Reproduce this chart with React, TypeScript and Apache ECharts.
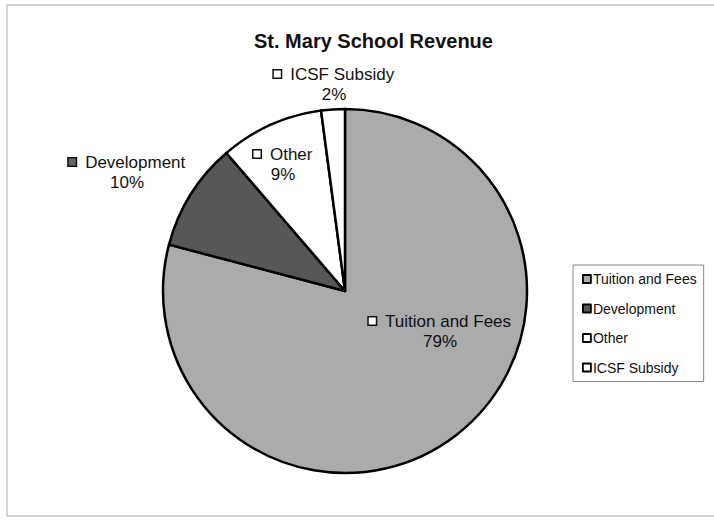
import React, { useEffect, useRef } from "react";
import * as echarts from "echarts";

const titleText = "St. Mary School Revenue";
const categories = ["Tuition and Fees", "Development", "Other", "ICSF Subsidy"];
const values = [79.1, 9.6, 9.2, 2.1];

const sliceColors = ["#ababab", "#575757", "#ffffff", "#ffffff"];
const boxStyles = ["boxW", "boxD", "boxW", "boxW"];
// label centres (px), styling only
const labelPos = [
  [440, 331],
  [127, 172],
  [283, 164],
  [334, 84],
];

const FONT = 'Arial, "Liberation Sans", sans-serif';

export default function App() {
  const ref = useRef<HTMLDivElement>(null);
  useEffect(() => {
    if (!ref.current) return;
    const chart = echarts.init(ref.current, undefined, { renderer: "svg" });
    chart.setOption({
      animation: false,
      backgroundColor: "#ffffff",
      title: {
        text: titleText,
        left: 254,
        top: 31,
        padding: 0,
        textStyle: { fontFamily: FONT, fontSize: 20, fontWeight: "bold", color: "#111" },
      },
      legend: {
        orient: "vertical",
        left: 573,
        top: 265,
        width: 120,
        padding: [7, 7, 7, 9],
        borderColor: "#888",
        borderWidth: 1,
        itemWidth: 8,
        itemHeight: 8,
        itemGap: 15.5,
        icon: "rect",
        data: categories,
        itemStyle: { borderColor: "#000", borderWidth: 1.8 },
        textStyle: { fontFamily: FONT, fontSize: 14, color: "#111", padding: [0, 0, 0, -3] },
      },
      graphic: [
        {
          type: "rect",
          shape: { x: 7, y: 5, width: 720, height: 511 },
          style: { fill: "none", stroke: "#aaa", lineWidth: 1 },
          silent: true,
        },
      ],
      series: [
        {
          type: "pie",
          center: [345, 291],
          radius: 182,
          startAngle: 90,
          clockwise: true,
          percentPrecision: 0,
          avoidLabelOverlap: false,
          labelLine: { show: false },
          itemStyle: { borderColor: "#000", borderWidth: 2.5 },
          label: {
            show: true,
            position: "inside",
            fontFamily: FONT,
            fontSize: 17,
            color: "#111",
            lineHeight: 20,
            align: "center",
            formatter: (p: any) =>
              `{${boxStyles[p.dataIndex]}|}  ${p.name}\n${p.percent}%`,
            rich: {
              boxW: {
                width: 7,
                height: 7,
                backgroundColor: "#fff",
                borderColor: "#111",
                borderWidth: 1.5,
              },
              boxD: {
                width: 7,
                height: 7,
                backgroundColor: "#666",
                borderColor: "#111",
                borderWidth: 1.5,
              },
            },
          },
          labelLayout: (p: any) => ({
            x: labelPos[p.dataIndex][0],
            y: labelPos[p.dataIndex][1],
            align: "center",
            verticalAlign: "middle",
          }),
          data: categories.map((c, i) => ({
            name: c,
            value: values[i],
            itemStyle: { color: sliceColors[i] },
          })),
        },
      ],
    });
    return () => chart.dispose();
  }, []);
  return (
    <div
      ref={ref}
      style={{ position: "fixed", left: 0, top: 0, width: 714, height: 520 }}
    />
  );
}
